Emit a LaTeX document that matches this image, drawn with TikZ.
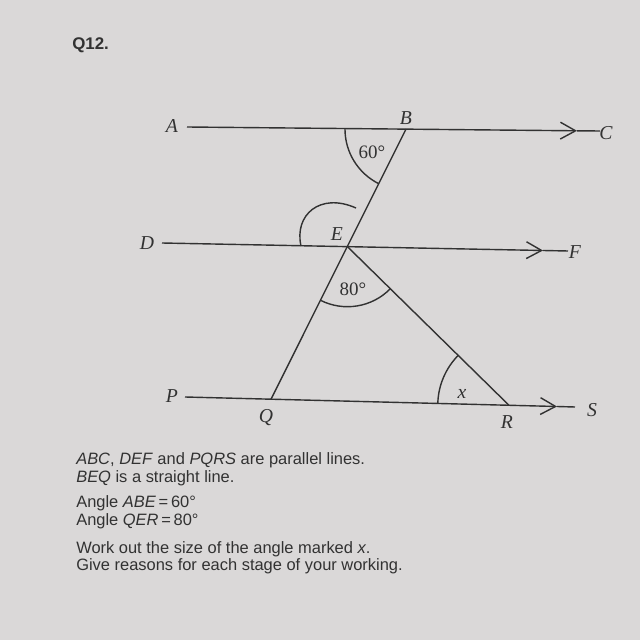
\documentclass[tikz,border=0pt]{standalone}
\usepackage{fontspec}
\setmainfont{Liberation Serif}
\newfontfamily\sansq{Liberation Sans}
\usetikzlibrary{arrows.meta,angles}
\definecolor{paper}{RGB}{218,216,216}
\definecolor{ink}{RGB}{50,50,50}
\tikzset{
  pline/.style={draw=ink, line width=1pt},
  barb/.style={-{Straight Barb[length=3.8mm,width=4.2mm,line width=1pt]}},
  ptlab/.style={font=\fontsize{14}{16}\selectfont\itshape, text=ink, inner sep=0pt},
  anglab/.style={font=\fontsize{13.5}{16}\selectfont, text=ink, inner sep=0pt},
  arcmark/.style={draw=ink, line width=1pt},
  txt/.style={font=\sansq\fontsize{11.7}{13}\selectfont, text=ink, anchor=base west, inner sep=0pt},
}
\begin{document}
\begin{tikzpicture}[x=0.025cm,y=0.025cm]
\fill[paper] (0,0) rectangle (640,640);
\useasboundingbox (0,0) rectangle (640,640);

% the three parallel lines
\coordinate (A) at (187,513);
\coordinate (B) at (406,510.9);
\coordinate (Ct) at (577,509.2);
\coordinate (C) at (600,509);
\coordinate (D) at (162,397);
\coordinate (E) at (347.5,393.3);
\coordinate (Ft) at (543,389.5);
\coordinate (F) at (568,389);
\coordinate (P) at (185,243);
\coordinate (Q) at (271,240.8);
\coordinate (R) at (509,234.7);
\coordinate (St) at (557,233.5);
\coordinate (S) at (575,233);

\draw[pline,barb] (A) -- (Ct);
\draw[pline] (Ct) -- (C);
\draw[pline,barb] (D) -- (Ft);
\draw[pline] (Ft) -- (F);
\draw[pline,barb] (P) -- (St);
\draw[pline] (St) -- (S);

% transversal and triangle
\draw[pline] (B) -- (Q);
\draw[pline] (E) -- (R);

% angle marks
\pic[arcmark, angle radius=1.525cm] {angle=A--B--E};
\pic[arcmark, angle radius=1.5cm] {angle=Q--E--R};
\pic[arcmark, angle radius=1.78cm] {angle=E--R--Q};
\draw[arcmark] (301,394) .. controls (294,425) and (320,448) .. (356,432);

% point labels
\node[ptlab] (lA) at (172,514) {A};
\node[ptlab] (lB) at (406,522) {B};
\node[ptlab] (lC) at (606,507) {C};
\node[ptlab] (lD) at (147,397) {D};
\node[ptlab] (lE) at (337,406) {E};
\node[ptlab] (lF) at (575,388) {F};
\node[ptlab] (lP) at (172,244) {P};
\node[ptlab] (lQ) at (266,222) {Q};
\node[ptlab] (lR) at (507,218) {R};
\node[ptlab] (lS) at (592,230) {S};

\node[anglab] (a60) at (372,488) {60°};
\node[anglab] (a80) at (353,351) {80°};
\node[ptlab] (ax) at (462,246) {x};

% question text
\node[font=\sansq\bfseries\fontsize{12}{14}\selectfont, text=ink, anchor=base west, inner sep=0pt] (q) at (72,590) {Q12.};
\node[txt] (t1) at (76,175) {\textit{ABC}, \textit{DEF} and \textit{PQRS} are parallel lines.};
\node[txt] (t2) at (76,157) {\textit{BEQ} is a straight line.};
\node[txt] (t3) at (76,132) {Angle \textit{ABE}\,=\,60°};
\node[txt] (t4) at (76,114) {Angle \textit{QER}\,=\,80°};
\node[txt] (t5) at (76,87) {Work out the size of the angle marked \textit{x}.};
\node[txt] (t6) at (76,69) {Give reasons for each stage of your working.};
\end{tikzpicture}
\end{document}
